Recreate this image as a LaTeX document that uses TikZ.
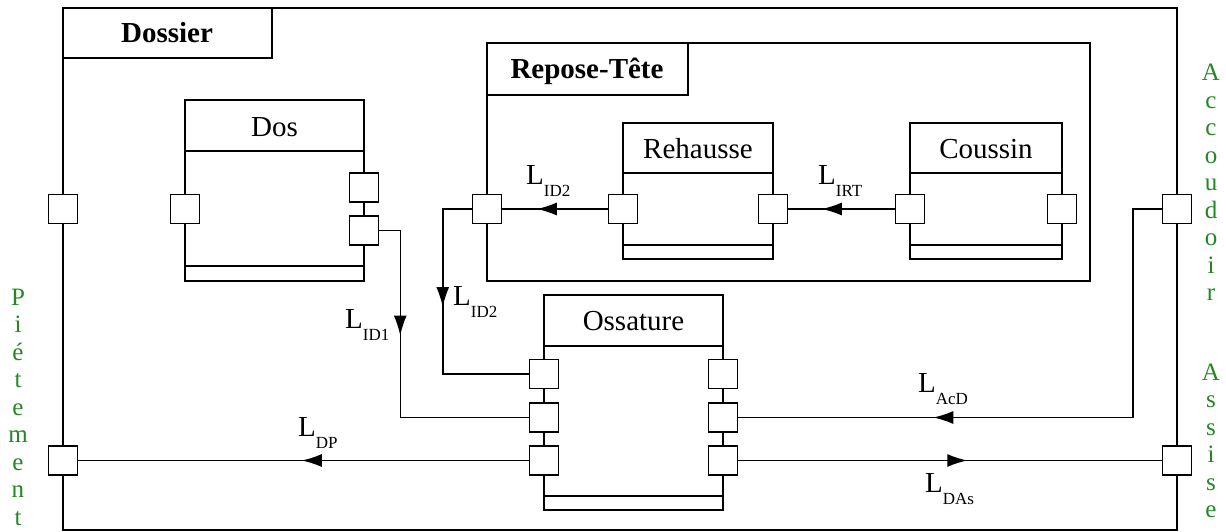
\documentclass[tikz,border=0pt]{standalone}
\usepackage{fontspec}
\setmainfont{Liberation Serif}
\usetikzlibrary{arrows.meta,decorations.markings}
\definecolor{lblgreen}{RGB}{35,135,35}
\newcommand\Lsub[1]{L\raisebox{-12pt}{\fontsize{17}{17}\selectfont #1}}
\tikzset{
 comp/.style={draw, line width=1.5pt, inner sep=0pt, outer sep=0pt, anchor=north west, fill=white},
 port/.style={draw, fill=white, line width=1.5pt, minimum size=29pt, inner sep=0pt},
 title/.style={font=\fontsize{29}{34}\selectfont, inner sep=0pt, anchor=base},
 btitle/.style={font=\fontsize{29}{34}\selectfont\bfseries, inner sep=0pt, anchor=base},
 lbl/.style={font=\fontsize{29}{34}\selectfont, inner sep=0pt, anchor=base west},
 side/.style={font=\fontsize{25}{27.5}\selectfont, text=lblgreen, inner sep=0pt, anchor=base},
 conn/.style={line width=1.5pt},
 arrowat/.style={postaction={decorate}, decoration={markings, mark=at position #1 with {\arrow{Latex[length=20pt,width=13pt]}}}}
}
\begin{document}
\begin{tikzpicture}[x=1pt,y=-1pt]
\useasboundingbox (0,0) rectangle (1226,532);
% frames
\node[comp, minimum width=1114pt, minimum height=522pt] (dossier) at (63,8) {};
\node[comp, minimum width=209pt, minimum height=50pt] (dossierhead) at (63,8) {};
\node[btitle] (dossiert) at (167,43) {Dossier};
\node[comp, minimum width=603pt, minimum height=238pt] (rt) at (487,43) {};
\node[comp, minimum width=201pt, minimum height=52pt] (rthead) at (487,43) {};
\node[btitle] (rtt) at (587,79) {Repose-Tête};
% components
\node[comp, minimum width=179pt, minimum height=181pt] (dos) at (185,100) {};
\node[title] (dost) at (274.5,136) {Dos};
\node[comp, minimum width=150pt, minimum height=136pt] (reh) at (623,123) {};
\node[title] (reht) at (698,158) {Rehausse};
\node[comp, minimum width=152pt, minimum height=136pt] (cou) at (910,123) {};
\node[title] (cout) at (986,158) {Coussin};
\node[comp, minimum width=179pt, minimum height=215pt] (oss) at (544,295) {};
\node[title] (osst) at (633.5,330) {Ossature};
\foreach \n/\h/\b in {dos/51/15, reh/50/14, cou/50/14, oss/51/14}{
  \draw[conn] ([yshift=-\h pt]\n.north west) -- ([yshift=-\h pt]\n.north east);
  \draw[conn] ([yshift=\b pt]\n.south west) -- ([yshift=\b pt]\n.south east);
}
% ports
\node[port] (pD) at (63,209) {};
\node[port] (pDP) at (63,460.5) {};
\node[port] (pAcc) at (1177,209) {};
\node[port] (pAs) at (1177,460.5) {};
\node[port] (dosL) at (185,209) {};
\node[port] (dosR1) at (364,187.5) {};
\node[port] (dosR2) at (364,230.5) {};
\node[port] (rtL) at (487,209) {};
\node[port] (rehL) at (623,209) {};
\node[port] (rehR) at (773,209) {};
\node[port] (couL) at (910,209) {};
\node[port] (couR) at (1062,209) {};
\node[port] (ossL1) at (544,374) {};
\node[port] (ossL2) at (544,417.5) {};
\node[port] (ossL3) at (544,460.5) {};
\node[port] (ossR1) at (723,374) {};
\node[port] (ossR2) at (723,417.5) {};
\node[port] (ossR3) at (723,460.5) {};
% connectors
\draw[conn, arrowat=71pt] (rehL.west) -- (rtL.east);
\draw[conn, arrowat=73pt] (couL.west) -- (rehR.east);
\draw[conn, arrowat=127pt] (rtL.west) -- ++(-29,0) |- (ossL1.west);
\draw[conn, arrowat=126pt] (dosR2.east) -- ++(21,0) |- (ossL2.west);
\draw[conn, arrowat=437pt] (pAcc.west) -- ++(-29,0) |- (ossR2.east);
\draw[conn, arrowat=229pt] (ossR3.east) -- (pAs.west);
\draw[conn, arrowat=227pt] (ossL3.west) -- (pDP.east);
% labels
\node[lbl] (lid2a) at (526,184) {\Lsub{ID2}};
\node[lbl] (lirt) at (818,184) {\Lsub{IRT}};
\node[lbl] (lid2b) at (453,305) {\Lsub{ID2}};
\node[lbl] (lid1) at (345,328) {\Lsub{ID1}};
\node[lbl] (ldp) at (298,436) {\Lsub{DP}};
\node[lbl] (lacd) at (918,392) {\Lsub{AcD}};
\node[lbl] (ldas) at (925,492) {\Lsub{DAs}};
% side labels
\node[side] (piet) at (18,305) {\begin{tabular}[t]{@{}c@{}}P\\i\\é\\t\\e\\m\\e\\n\\t\end{tabular}};
\node[side] (accou) at (1211,81) {\begin{tabular}[t]{@{}c@{}}A\\c\\c\\o\\u\\d\\o\\i\\r\end{tabular}};
\node[side] (assise) at (1211,380) {\begin{tabular}[t]{@{}c@{}}A\\s\\s\\i\\s\\e\end{tabular}};
\end{tikzpicture}
\end{document}
